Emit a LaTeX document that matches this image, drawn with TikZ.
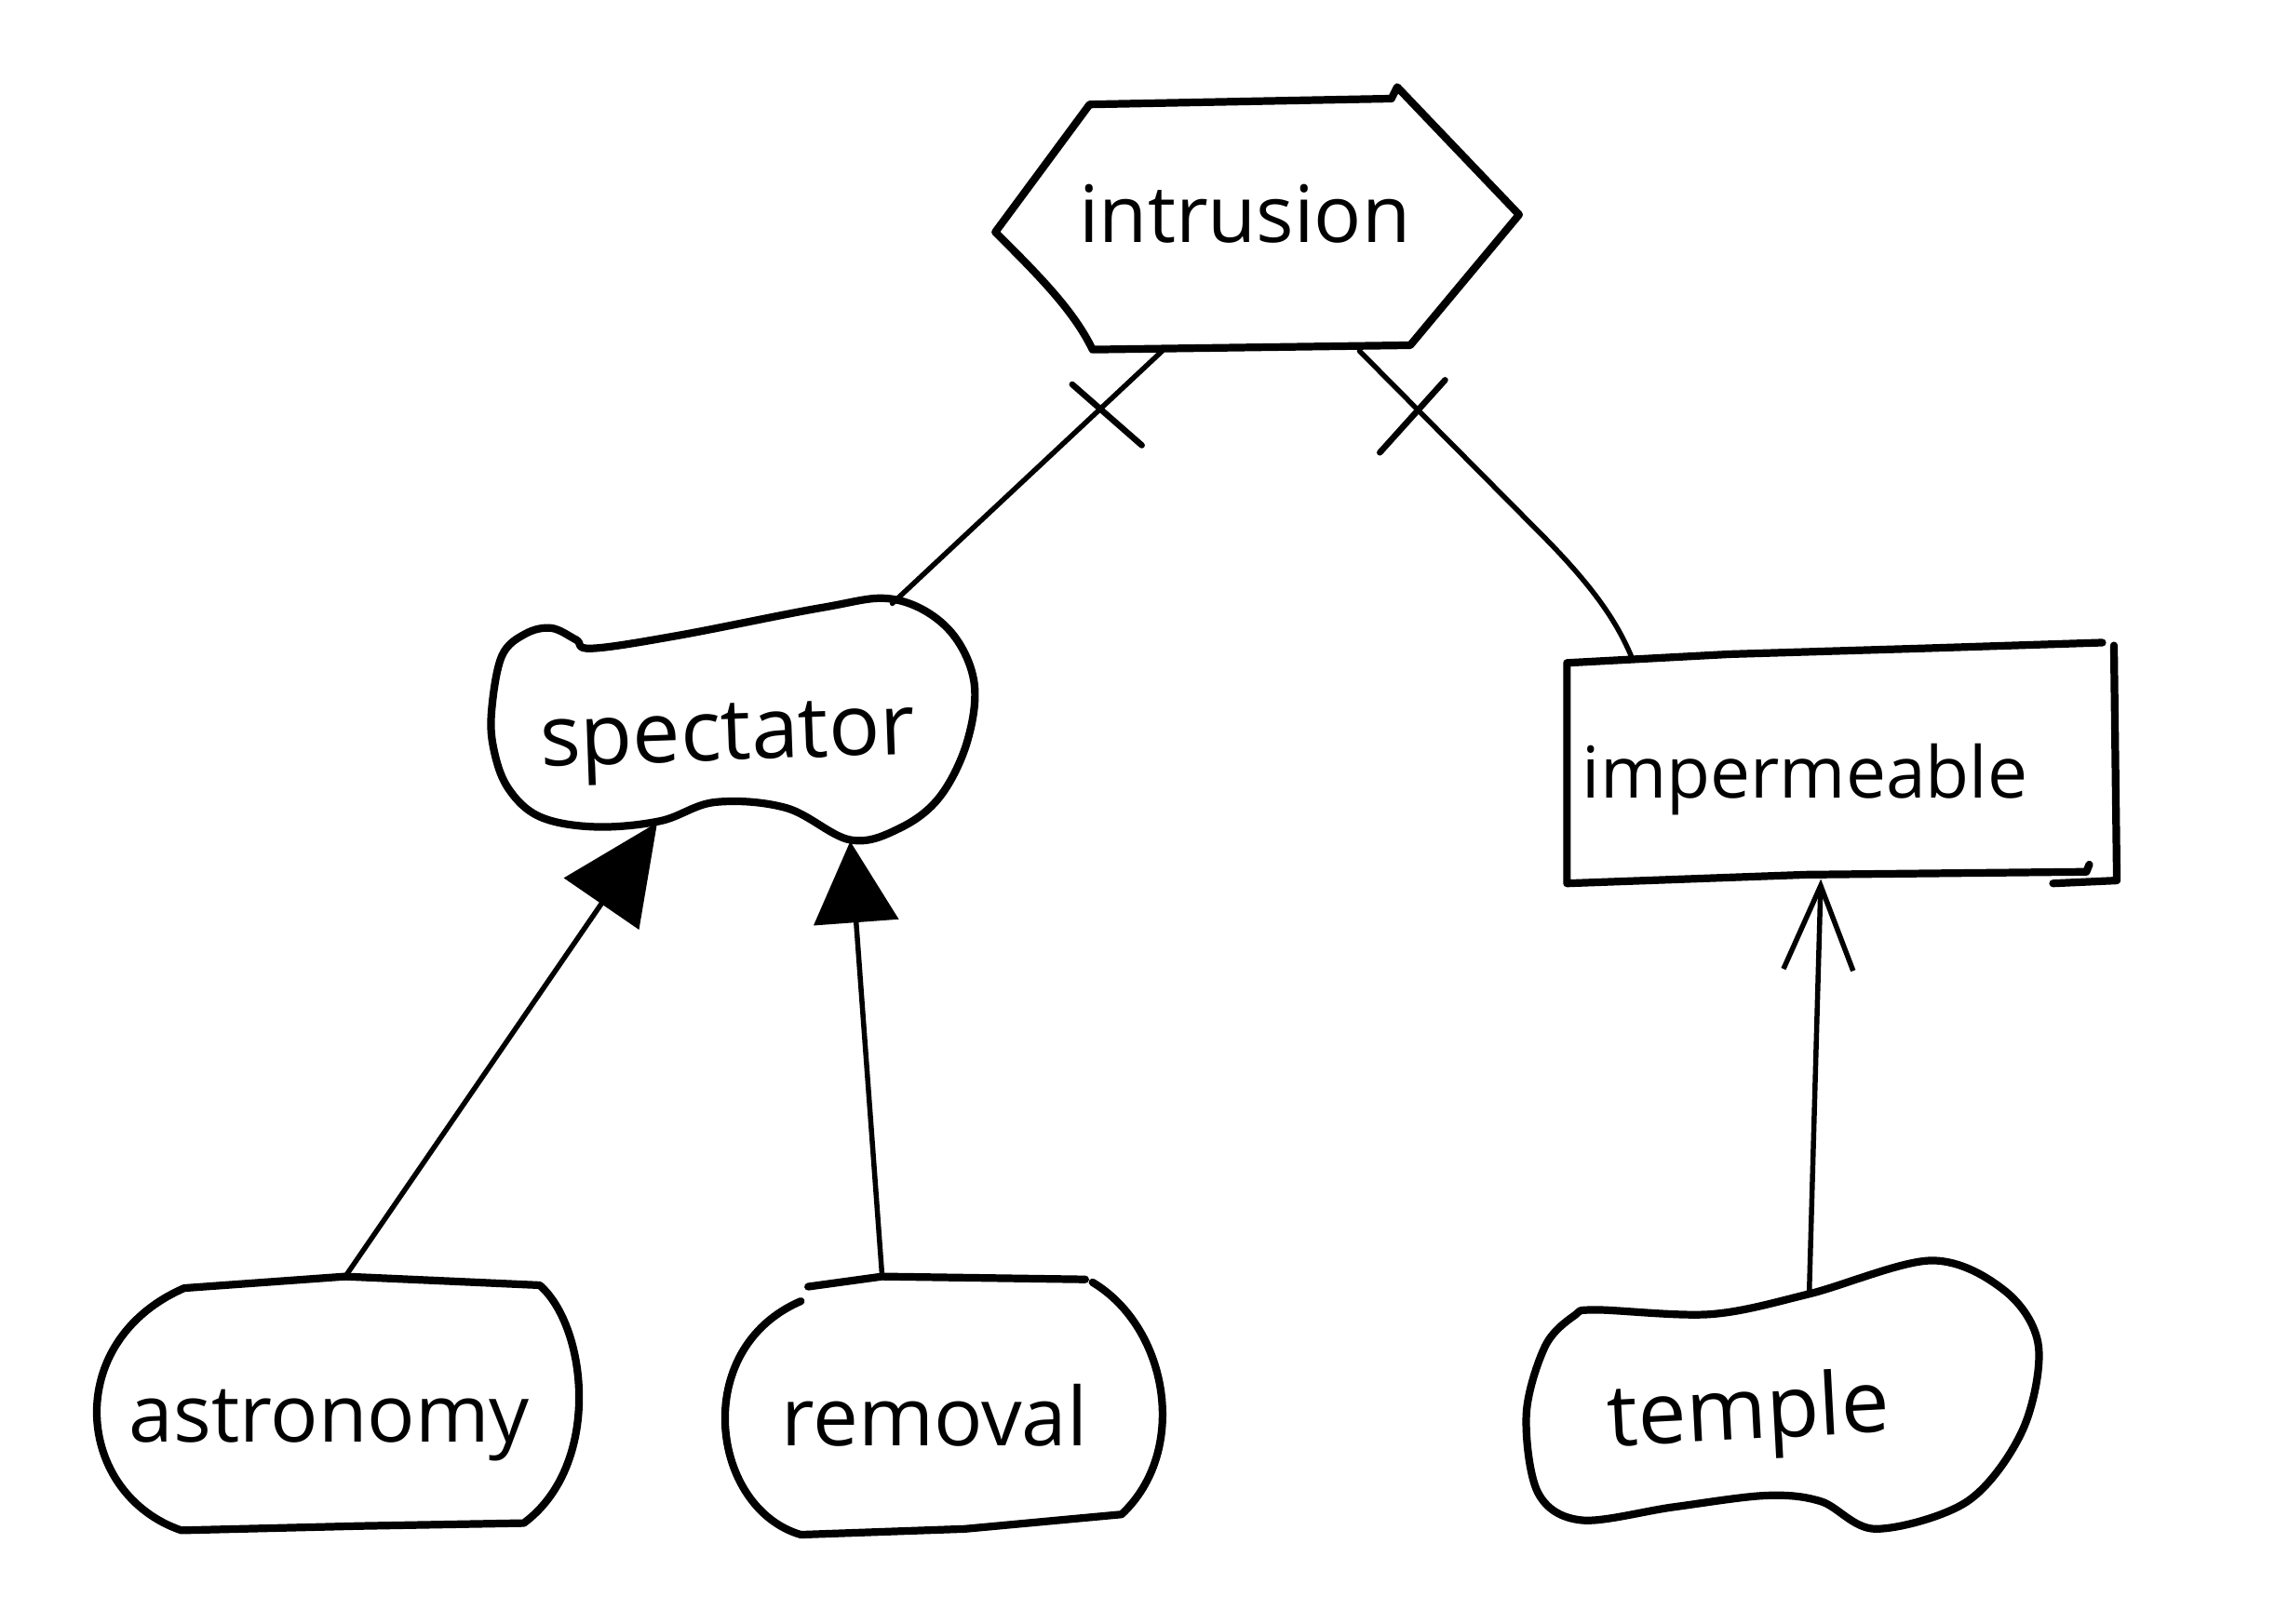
\documentclass[tikz,border=0pt]{standalone}
\usepackage{fontspec}
\setmainfont{Open Sans}
\usetikzlibrary{arrows.meta}
\begin{document}
\begin{tikzpicture}[x=0.01cm,y=-0.01cm,
  outline/.style={line width=1.5pt, line join=round, line cap=round},
  conn/.style={line width=1pt, line cap=round, line join=round},
  tickmark/.style={line width=1.2pt, line cap=round},
  lbl/.style={anchor=base, inner sep=0pt},
  bigtip/.style={-{Triangle[length=6.8mm,width=6.2mm]}},
  filledtip/.style={-{Triangle[length=5.6mm,width=5.8mm]}},
  opentip/.style={-{Straight Barb[length=5.8mm,width=4.8mm]}},
]
\useasboundingbox (0,0) rectangle (1568,1119);
\fill[white] (0,0) rectangle (1568,1119);

% labels
\node[lbl, font=\fontsize{15.5}{18}\selectfont] (intrusion) at (858,167) {intrusion};
\node[lbl, font=\fontsize{16.7}{20}\selectfont, rotate=2] (spectator) at (502,524) {spectator};
\node[lbl, font=\fontsize{14}{17}\selectfont] (impermeable) at (1244,550) {impermeable};
\node[lbl, font=\fontsize{15.6}{18}\selectfont] (astronomy) at (227,994) {astronomy};
\node[lbl, font=\fontsize{15.9}{18}\selectfont] (removal) at (644,997) {removal};
\node[lbl, font=\fontsize{16.9}{20}\selectfont, rotate=3] (temple) at (1206,992) {temple};

% outlines
\draw[outline] (686,160) -- (751,72) -- (959,68) -- (963,60) -- (1047,148) -- (972,238) -- (753,241)
  .. controls (740,214) and (716,190) .. (686,160) -- cycle;
\draw[outline] plot[smooth cycle, tension=0.6] coordinates {(339,488) (346,452) (362,437) (380,433) (397,441) (408,447) (468,438) (566,419) (615,413) (652,432) (671,468) (667,510) (648,549) (620,571) (586,579) (542,557) (493,553) (455,566) (410,570) (372,563) (350,543) (340,515)};
\draw[outline] (1449,443) -- (1325,447) -- (1192,451) -- (1080,457) -- (1080,609) -- (1245,603) -- (1438,601) -- (1440,596);
\draw[outline] (1457,445) -- (1459,607) -- (1415,609);
\draw[outline] (127,888) -- (238,880) -- (372,886) .. controls (405,915) and (415,1010) .. (361,1050)
  -- (248,1052) -- (125,1055) .. controls (52,1030) and (42,925) .. (127,888) -- cycle;
\draw[outline] (552,897) .. controls (475,930) and (490,1040) .. (552,1058) -- (665,1054) -- (773,1044)
  .. controls (820,1000) and (805,915) .. (753,884);
\draw[outline] (557,887) -- (608,880) -- (748,882);
\draw[outline] plot[smooth cycle, tension=0.55] coordinates {(1065,928) (1085,907) (1100,903) (1179,906) (1247,892) (1331,869) (1382,890) (1405,928) (1394,986) (1356,1035) (1293,1054) (1255,1035) (1217,1031) (1153,1039) (1090,1048) (1060,1029) (1052,975)};

% connector ends on the outlines
\coordinate (intrusion-sw) at (801,242);
\coordinate (intrusion-se) at (937,242);
\coordinate (spectator-n) at (615,416);
\coordinate (spectator-sw) at (453,567);
\coordinate (spectator-s) at (586,580);
\coordinate (impermeable-n) at (1125,454);
\coordinate (impermeable-s) at (1255,606);
\coordinate (astronomy-n) at (238,880);
\coordinate (removal-n) at (608,880);
\coordinate (temple-n) at (1247,891);

% connectors
\draw[conn] (intrusion-sw) -- (spectator-n);
\draw[conn] (intrusion-se) -- (1060,366) .. controls (1100,406) and (1115,430) .. (impermeable-n);
\draw[tickmark] (739,265) -- (787,307);
\draw[tickmark] (996,262) -- (951,312);
\draw[conn, bigtip] (astronomy-n) -- (spectator-sw);
\draw[conn, filledtip] (removal-n) -- (spectator-s);
\draw[conn, opentip] (temple-n) -- (impermeable-s);
\end{tikzpicture}
\end{document}
